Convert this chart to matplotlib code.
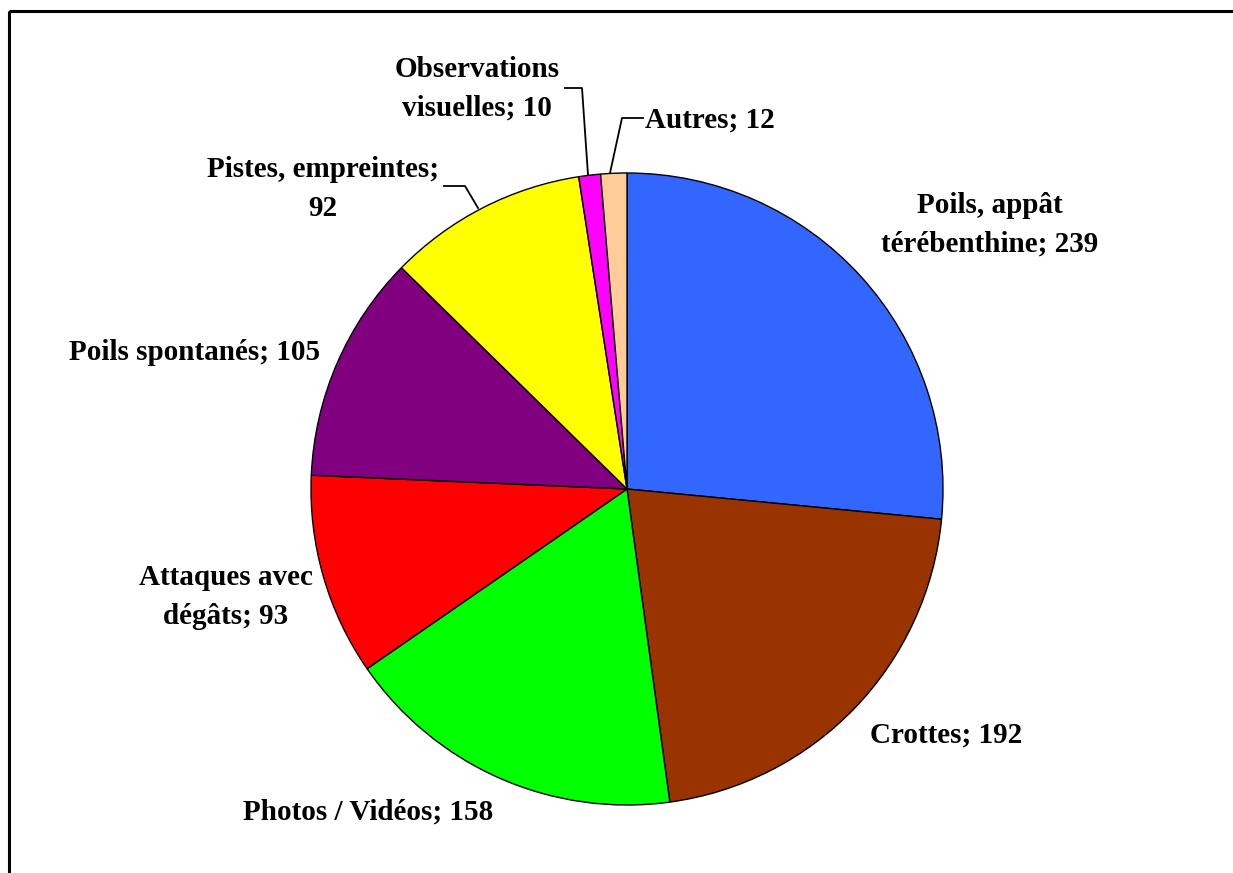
import matplotlib.pyplot as plt
import matplotlib.patches as mpatches

labels = ["Poils, appât\ntérébenthine", "Crottes", "Photos / Vidéos",
          "Attaques avec\ndégâts", "Poils spontanés", "Pistes, empreintes",
          "Observations\nvisuelles", "Autres"]
values = [239, 192, 158, 93, 105, 92, 10, 12]
colors = ["#3366FF", "#993300", "#00FF00", "#FF0000", "#800080",
          "#FFFF00", "#FF00FF", "#FFCC99"]
# separator between name and value (one label wraps after the semicolon)
seps = ["; ", "; ", "; ", "; ", "; ", ";\n", "; ", "; "]

W, H = 1233, 873
fig = plt.figure(figsize=(W / 100, H / 100), dpi=100)
ax = fig.add_axes([0, 0, 1, 1])
ax.set_xlim(0, W)
ax.set_ylim(H, 0)
ax.axis("off")

# pie in its own axes, placed in pixel space
cx, cy, r = 627, 489, 316
pax = fig.add_axes([(cx - r) / W, 1 - (cy + r) / H, 2 * r / W, 2 * r / H])
pax.pie(values, colors=colors, startangle=90, counterclock=False,
        wedgeprops=dict(edgecolor="black", linewidth=1))
pax.set_xlim(-1, 1)
pax.set_ylim(-1, 1)
pax.set_aspect("auto")
pax.axis("off")

font = dict(family="Liberation Serif", fontweight="bold", fontsize=21,
            ha="center", va="center", linespacing=1.55)

# label centres in pixels
label_xy = [(990, 225), (946, 735), (368, 812), (226, 597),
            (195, 352), (323, 189), (477, 89), (710, 120)]
for lab, sep, v, (x, y) in zip(labels, seps, values, label_xy):
    ax.text(x, y, f"{lab}{sep}{v}", **font)

# leader lines
ax.plot([444, 465, 478], [186, 186, 208], color="black", lw=1.3)
ax.plot([565, 582, 588], [88, 88, 175], color="black", lw=1.3)
ax.plot([643, 622, 610], [118, 118, 173], color="black", lw=1.3)

# outer frame
ax.add_patch(mpatches.Rectangle((9, 11), W, H, fill=False,
                                edgecolor="black", lw=2.2))

fig.savefig("out.png", dpi=100)
